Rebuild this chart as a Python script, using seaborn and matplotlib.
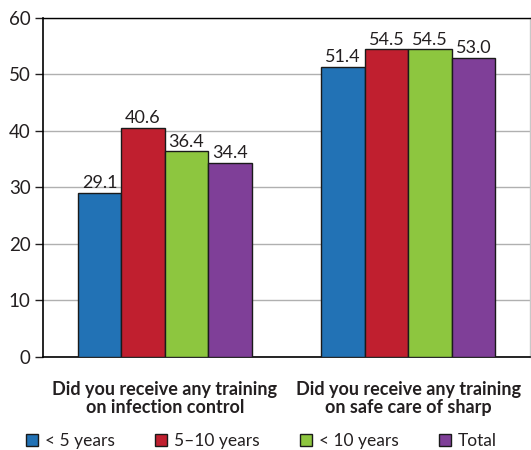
import matplotlib
matplotlib.use("Agg")
import matplotlib.pyplot as plt
import seaborn as sns
import pandas as pd
from matplotlib.patches import Patch

categories = ["Did you receive any training\non infection control",
              "Did you receive any training\non safe care of sharp"]
groups = ["< 5 years", "5\u201310 years", "< 10 years", "Total"]
values_lt5 = [29.1, 51.4]
values_5_10 = [40.6, 54.5]
values_lt10 = [36.4, 54.5]
values_total = [34.4, 53.0]
colors = ["#2272B5", "#C01F2F", "#8DC63F", "#7F3F98"]

rows = []
for g, vals in zip(groups, [values_lt5, values_5_10, values_lt10, values_total]):
    for c, v in zip(categories, vals):
        rows.append({"cat": c, "group": g, "value": v})
df = pd.DataFrame(rows)

sns.set_style("white")
plt.rcParams['font.family'] = ['Lato', 'DejaVu Sans']
text_color = "#231f20"

fig = plt.figure(figsize=(5.31, 4.5), dpi=100)
ax = fig.add_axes([0.081, 0.2067, 0.917, 0.7533])

sns.barplot(data=df, x="cat", y="value", hue="group", palette=colors,
            hue_order=groups, order=categories, width=0.715,
            edgecolor="#1a1a1a", linewidth=1.0, saturation=1, ax=ax, legend=False,
            zorder=3)

for cont in ax.containers:
    ax.bar_label(cont, fmt="%.1f", padding=1, fontsize=13, color=text_color)

ax.set_ylim(0, 60)
ax.set_xlim(-0.5, 1.5)
ax.set_yticks(range(0, 61, 10))
ax.yaxis.grid(True, color="#b0b0b0", linewidth=1.0, zorder=0)
ax.set_axisbelow(True)
ax.set_xlabel("")
ax.set_ylabel("")
ax.tick_params(axis="y", which="both", left=True, length=6, width=1,
               labelsize=13.5, colors=text_color, pad=3)
ax.tick_params(axis="x", bottom=False, labelsize=13, pad=14)
for lbl in ax.get_xticklabels():
    lbl.set_fontweight("bold")
    lbl.set_color(text_color)
    lbl.set_linespacing(1.05)

ax.spines["left"].set_color("#000000")
ax.spines["left"].set_linewidth(1.2)
ax.spines["bottom"].set_color("#000000")
ax.spines["bottom"].set_linewidth(1.2)
ax.spines["top"].set_color("#000000")
ax.spines["top"].set_linewidth(1.0)
ax.spines["right"].set_color("#c8c8c8")
ax.spines["right"].set_linewidth(1.0)

handles = [Patch(facecolor=c, edgecolor="#1a1a1a", linewidth=1.0) for c in colors]
fig.legend(handles, groups, loc="lower left", bbox_to_anchor=(0.02, -0.032),
           ncol=4, frameon=False, fontsize=12.5, handlelength=0.7, handleheight=0.7,
           handletextpad=0.4, columnspacing=2.3, labelcolor=text_color)

fig.savefig("out.png", dpi=100)
